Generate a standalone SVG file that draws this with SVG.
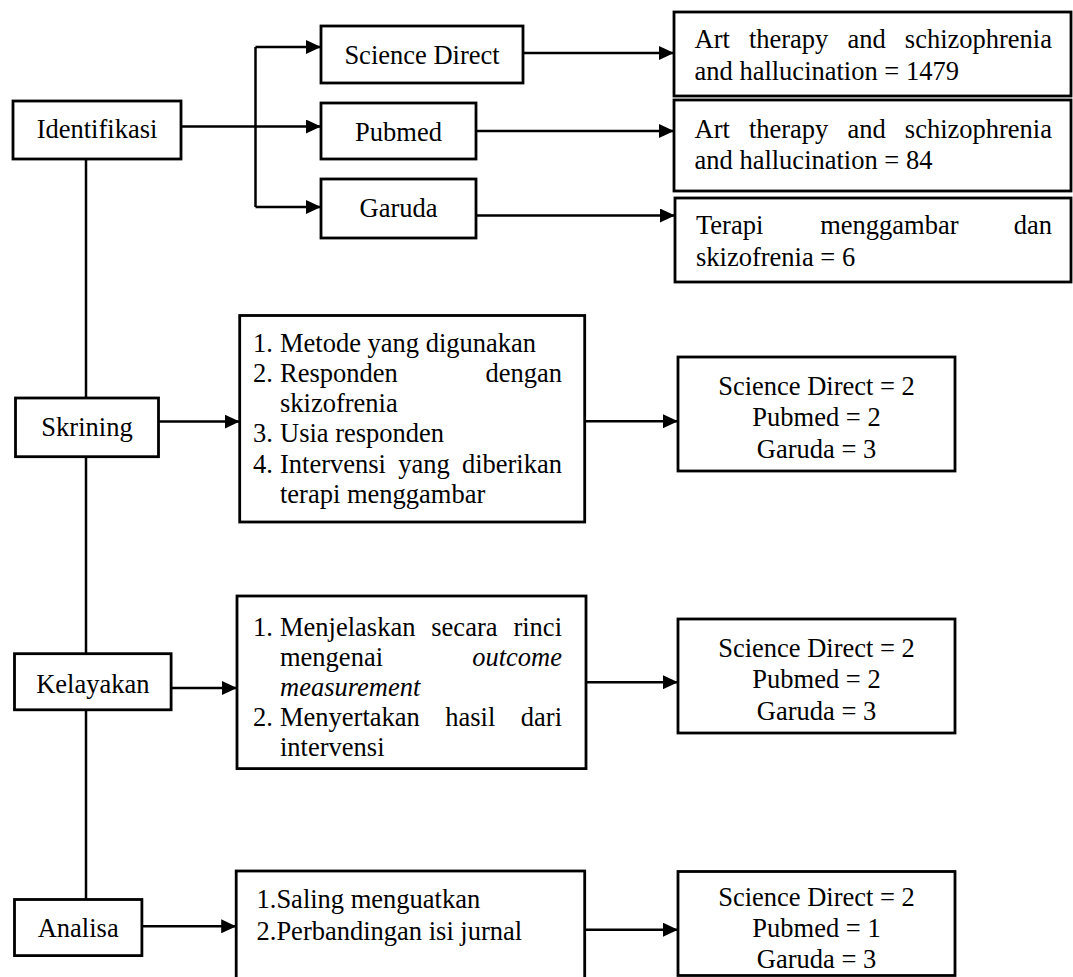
<svg xmlns="http://www.w3.org/2000/svg" width="1073" height="977" viewBox="0 0 1073 977">
<style>
.box{fill:#fff;stroke:#000;stroke-width:2.8}
.t{font-family:"Liberation Serif","Times New Roman",serif;font-size:26.5px;fill:#000}
.c{text-anchor:middle}
.e{text-anchor:end}
.i{font-style:italic}
.ln{fill:none;stroke:#000;stroke-width:2.5}
</style>
<defs>
<marker id="ah" markerWidth="15" markerHeight="14" refX="15" refY="7" orient="auto" markerUnits="userSpaceOnUse">
<path d="M0,0 L15,7 L0,14 z" fill="#000"/>
</marker>
</defs>
<rect width="1073" height="977" fill="#fff"/>
<g id="connectors">
<path class="ln" d="M86,159.4 V398 M86,456.7 V653.7 M86,709.8 V899.5"/>
<path class="ln" d="M255.5,47 V207"/>
<path class="ln" d="M255.5,47 H321" marker-end="url(#ah)"/>
<path class="ln" d="M255.5,207 H321" marker-end="url(#ah)"/>
<path class="ln" d="M181,126.5 H321" marker-end="url(#ah)"/>
<path class="ln" d="M523,53 H674" marker-end="url(#ah)"/>
<path class="ln" d="M476,131 H674" marker-end="url(#ah)"/>
<path class="ln" d="M476,215.5 H675" marker-end="url(#ah)"/>
<path class="ln" d="M158.4,421.6 H239.7" marker-end="url(#ah)"/>
<path class="ln" d="M584.7,421.2 H678" marker-end="url(#ah)"/>
<path class="ln" d="M171,688 H237" marker-end="url(#ah)"/>
<path class="ln" d="M586,682.2 H678" marker-end="url(#ah)"/>
<path class="ln" d="M142,926.3 H236.2" marker-end="url(#ah)"/>
<path class="ln" d="M584.7,929.7 H678" marker-end="url(#ah)"/>
</g>
<g id="identifikasi">
<rect class="box" x="13" y="101" width="168" height="58"/>
<text class="t c" x="97" y="137.7">Identifikasi</text>
</g>
<g id="science-direct">
<rect class="box" x="321" y="26" width="202" height="57"/>
<text class="t c" x="422" y="63.7">Science Direct</text>
</g>
<g id="pubmed">
<rect class="box" x="321" y="103" width="155" height="56"/>
<text class="t c" x="398.5" y="141">Pubmed</text>
</g>
<g id="garuda">
<rect class="box" x="321" y="179" width="155" height="59"/>
<text class="t c" x="398.5" y="217">Garuda</text>
</g>
<g id="result-sd">
<rect class="box" x="674" y="12" width="397" height="84"/>
<text class="t" y="48"><tspan x="694.5">Art</tspan><tspan x="748.9">therapy</tspan><tspan x="847.5">and</tspan><tspan x="1052" text-anchor="end">schizophrenia</tspan></text>
<text class="t" x="694.5" y="79.5">and hallucination = 1479</text>
</g>
<g id="result-pubmed">
<rect class="box" x="674" y="100" width="397" height="91"/>
<text class="t" y="137.5"><tspan x="694.5">Art</tspan><tspan x="748.9">therapy</tspan><tspan x="847.5">and</tspan><tspan x="1052" text-anchor="end">schizophrenia</tspan></text>
<text class="t" x="694.5" y="169">and hallucination = 84</text>
</g>
<g id="result-garuda">
<rect class="box" x="675" y="198" width="396" height="84"/>
<text class="t" y="233.5"><tspan x="696">Terapi</tspan><tspan x="820.2">menggambar</tspan><tspan x="1052" text-anchor="end">dan</tspan></text>
<text class="t" x="696" y="265.5">skizofrenia = 6</text>
</g>
<g id="skrining">
<rect class="box" x="15.5" y="398" width="143" height="58.7"/>
<text class="t c" x="87" y="436">Skrining</text>
</g>
<g id="skrining-criteria">
<rect class="box" x="239.7" y="315.5" width="345" height="206.5"/>
<text class="t" x="253" y="351.5">1.</text><text class="t" x="280" y="351.5">Metode yang digunakan</text>
<text class="t" x="253" y="381.8">2.</text><text class="t" y="381.8"><tspan x="280">Responden</tspan><tspan x="562" text-anchor="end">dengan</tspan></text>
<text class="t" x="280" y="412">skizofrenia</text>
<text class="t" x="253" y="442.3">3.</text><text class="t" x="280" y="442.3">Usia responden</text>
<text class="t" x="253" y="472.6">4.</text><text class="t" y="472.6"><tspan x="280">Intervensi</tspan><tspan x="398.2">yang</tspan><tspan x="562" text-anchor="end">diberikan</tspan></text>
<text class="t" x="280" y="503">terapi menggambar</text>
</g>
<g id="skrining-result">
<rect class="box" x="678" y="357" width="277" height="114"/>
<text class="t c" x="816.5" y="395.2">Science Direct = 2</text>
<text class="t c" x="816.5" y="426.4">Pubmed = 2</text>
<text class="t c" x="816.5" y="457.5">Garuda = 3</text>
</g>
<g id="kelayakan">
<rect class="box" x="14.5" y="653.7" width="156.6" height="56.1"/>
<text class="t c" x="92.8" y="692.6">Kelayakan</text>
</g>
<g id="kelayakan-criteria">
<rect class="box" x="237" y="596" width="349" height="172.6"/>
<text class="t" x="253" y="636">1.</text><text class="t" y="636"><tspan x="280">Menjelaskan</tspan><tspan x="431.3">secara</tspan><tspan x="562" text-anchor="end">rinci</tspan></text>
<text class="t" y="666"><tspan x="280">mengenai</tspan><tspan x="562" text-anchor="end" font-style="italic">outcome</tspan></text>
<text class="t i" x="280" y="696">measurement</text>
<text class="t" x="253" y="726">2.</text><text class="t" y="726"><tspan x="280">Menyertakan</tspan><tspan x="445.3">hasil</tspan><tspan x="562" text-anchor="end">dari</tspan></text>
<text class="t" x="280" y="756">intervensi</text>
</g>
<g id="kelayakan-result">
<rect class="box" x="678" y="619" width="277" height="114"/>
<text class="t c" x="816.5" y="656.5">Science Direct = 2</text>
<text class="t c" x="816.5" y="688">Pubmed = 2</text>
<text class="t c" x="816.5" y="719.5">Garuda = 3</text>
</g>
<g id="analisa">
<rect class="box" x="14.5" y="899.5" width="127.4" height="56.1"/>
<text class="t c" x="78.2" y="937.3">Analisa</text>
</g>
<g id="analisa-criteria">
<rect class="box" x="236.2" y="871" width="348.5" height="130"/>
<text class="t" x="256.5" y="908">1.Saling menguatkan</text>
<text class="t" x="256.5" y="939.8">2.Perbandingan isi jurnal</text>
</g>
<g id="analisa-result">
<rect class="box" x="678" y="871.5" width="277" height="104"/>
<text class="t c" x="816.5" y="906">Science Direct = 2</text>
<text class="t c" x="816.5" y="937">Pubmed = 1</text>
<text class="t c" x="816.5" y="968">Garuda = 3</text>
</g>
</svg>
